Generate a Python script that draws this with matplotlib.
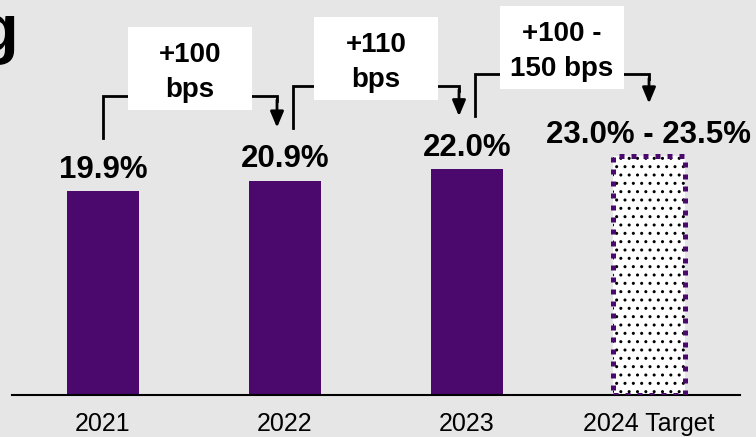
import matplotlib.pyplot as plt
from matplotlib.patches import Rectangle

plt.rcParams['font.family'] = ['Liberation Sans', 'DejaVu Sans']

years = ["2021", "2022", "2023", "2024 Target"]
margins = [19.9, 20.9, 22.0]
target_range = [23.0, 23.5]
change_labels = ["+100\nbps", "+110\nbps", "+100 -\n150 bps"]

PURPLE = "#4b086d"
BG = "#e7e6e6"

W, H = 756, 437
fig = plt.figure(figsize=(W / 100, H / 100), dpi=100, facecolor=BG)
ax = fig.add_axes([12 / W, 42 / H, 728 / W, 395 / H])
ax.set_facecolor(BG)
ax.set_xlim(-0.5, 3.5)
ax.set_ylim(0, 38.5)

# pixel sizes in data units
py = 38.5 / 395
px = 4.0 / 728

xs = list(range(len(years)))
target_mid = sum(target_range) / 2
heights = margins + [target_mid]

ax.bar(xs[:3], margins, width=0.4, color=PURPLE, zorder=2)
# target bar: dotted fill plus dashed purple outline
ax.bar(xs[3], target_mid, width=0.4, color="white", edgecolor="black",
       linewidth=0, hatch="..", zorder=2)
ax.bar(xs[3], target_mid, width=0.4, fill=False, edgecolor=PURPLE,
       linewidth=3.6, linestyle=(0, (1, 1.4)), zorder=3)

labels = [f"{v:.1f}%" for v in margins]
labels.append(f"{target_range[0]:.1f}% - {target_range[1]:.1f}%")
for xi, h, lab in zip(xs, heights, labels):
    ax.annotate(lab, (xi, h), xytext=(0, 9.5), textcoords="offset points",
                ha="center", va="baseline", fontsize=22.5, fontweight="bold")

# step connectors with the change in bps
for i, lab in enumerate(change_labels):
    x0 = i + (8 * px if i > 0 else 0)
    x1 = i + 1 - (8 * px if i + 1 < 3 else 0)
    y0 = heights[i] + 53 * py
    yh = y0 + 42 * py
    tip = heights[i + 1] + 53 * py
    ax.plot([x0, x0, x1, x1], [y0, yh, yh, yh - 5 * py], color="black",
            lw=2, solid_joinstyle="miter", zorder=2)
    ax.annotate("", xy=(x1, tip), xytext=(x1, yh - 4 * py),
                arrowprops=dict(arrowstyle="-|>,head_length=0.95,head_width=0.4",
                                color="black", lw=2, shrinkA=0, shrinkB=0,
                                mutation_scale=10))
    cx = (x0 + x1) / 2
    cy = yh + 27 * py
    ax.add_patch(Rectangle((cx - 62 * px, cy - 41.5 * py), 124 * px, 83 * py,
                           facecolor="white", edgecolor="none", zorder=3,
                           clip_on=False))
    ax.text(cx, cy - 4 * py, lab, ha="center", va="center", fontsize=20,
            fontweight="bold", linespacing=1.45, zorder=4)

for side in ["left", "right", "top"]:
    ax.spines[side].set_visible(False)
ax.spines["bottom"].set_linewidth(1.5)
ax.set_yticks([])
ax.set_xticks(xs)
ax.set_xticklabels(years)
ax.tick_params(axis="x", length=0, pad=12, labelsize=18)

fig.text(18 / W, 1 - 51 / H, "g", fontsize=48, fontweight="bold",
         ha="right", va="baseline")

fig.savefig("out.png", dpi=100, facecolor=BG)
